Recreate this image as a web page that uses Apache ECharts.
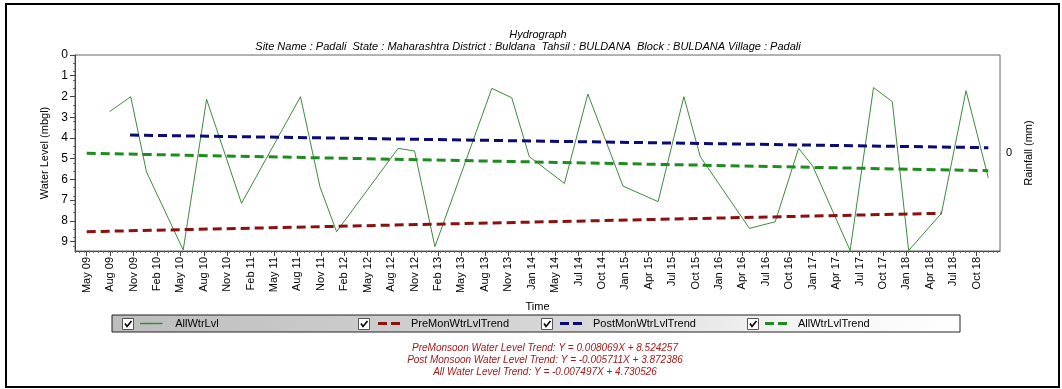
<!DOCTYPE html>
<html><head><meta charset="utf-8">
<script src="https://cdn.jsdelivr.net/npm/echarts@6/dist/echarts.min.js"></script>
<style>html,body{margin:0;padding:0;background:#fff}#c{width:1062px;height:389px}</style>
</head><body><div id="c"></div>
<script>
// tick labels (category positions, equally spaced)
const categories = ['May 09','Aug 09','Nov 09','Feb 10','May 10','Aug 10','Nov 10','Feb 11','May 11','Aug 11','Nov 11','Feb 12','May 12','Aug 12','Nov 12','Feb 13','May 13','Aug 13','Nov 13','Jan 14','May 14','Jul 14','Oct 14','Jan 15','Apr 15','Jul 15','Oct 15','Jan 16','Apr 16','Jul 16','Oct 16','Jan 17','Apr 17','Jul 17','Oct 17','Jan 18','Apr 18','Jul 18','Oct 18'];
const yTicks = [0,1,2,3,4,5,6,7,8,9];
// observed water level [position on time axis (category index), depth mbgl]
const allWtrLvl = [[0.98,2.73],[1.88,2.01],[2.55,5.63],[4.12,9.4],[5.12,2.14],[6.61,7.15],[9.13,2.01],[9.96,6.35],[10.67,8.52],[13.3,4.5],[14.0,4.63],[14.87,9.24],[17.3,1.61],[18.15,2.06],[18.9,4.9],[20.4,6.19],[21.4,1.88],[22.1,3.94],[22.9,6.32],[24.4,7.07],[25.5,2.01],[26.2,4.9],[28.3,8.36],[29.4,8.04],[30.4,4.5],[31.0,5.35],[32.6,9.43],[33.6,1.57],[34.4,2.25],[35.1,9.43],[36.5,7.63],[37.55,1.72],[38.5,5.92]];
const preMonTrend = [[0,8.52],[36.5,7.63]];
const postMonTrend = [[1.85,3.86],[38.5,4.47]];
const allTrend = [[0,4.74],[38.5,5.58]];
const equations = ['PreMonsoon Water Level Trend: Y = 0.008069X + 8.524257','Post Monsoon Water Level Trend: Y = -0.005711X + 3.872386','All Water Level Trend: Y = -0.007497X + 4.730526'];

const FONT = 'Liberation Sans';
const idx = categories.map((c,i)=>i);
const minor = [];
for (let i=-0.5;i<categories.length+0.5;i+=0.2){ minor.push(+i.toFixed(2)); }
const chart = echarts.init(document.getElementById('c'));
const dashIcon = 'path://M0,0h9v3h-9zM13,0h9v3h-9z';
function lg(name,left,icon,w,h){
  return {data:[name],left:left,top:318,orient:'horizontal',icon:icon,itemWidth:w,itemHeight:h,itemGap:0,padding:0,
    textStyle:{fontFamily:FONT,fontSize:11,color:'#000',padding:[0,0,0,4]},selectedMode:false};
}
function cb(x){
  return {type:'group',left:x,top:318,children:[
    {type:'rect',shape:{x:0,y:0,width:11,height:11},style:{fill:'#fff',stroke:'#555',lineWidth:1}},
    {type:'polyline',shape:{points:[[2.5,5],[4.5,8],[9,2.5]]},style:{stroke:'#000',lineWidth:1.6,fill:null}}
  ]};
}
chart.setOption({
  animation:false,
  title:[
    {text:'Hydrograph',left:533,textAlign:'center',top:24,textStyle:{fontFamily:FONT,fontSize:11,fontStyle:'italic',fontWeight:'normal',color:'#000'}},
    {text:'Site Name : Padali  State : Maharashtra District : Buldana  Tahsil : BULDANA  Block : BULDANA Village : Padali',left:523,textAlign:'center',top:36,textStyle:{fontFamily:FONT,fontSize:11,fontStyle:'italic',fontWeight:'normal',color:'#000'}},
    {text:equations.join('\n'),left:540,textAlign:'center',top:337,textStyle:{fontFamily:FONT,fontSize:10,fontStyle:'italic',fontWeight:'normal',color:'#a81818',lineHeight:12}}
  ],
  grid:{left:75,right:62,top:55,bottom:138,show:true,borderColor:'#666',borderWidth:1,backgroundColor:'#fff'},
  xAxis:[
    {type:'value',min:-0.5,max:39,name:'Time',nameLocation:'middle',nameGap:41,nameTextStyle:{fontFamily:FONT,fontSize:11,color:'#000'},
     axisLine:{show:true,onZero:false,lineStyle:{color:'#444'}},splitLine:{show:false},
     axisTick:{show:true,customValues:idx,length:5,lineStyle:{color:'#444'}},
     axisLabel:{customValues:idx,rotate:90,fontFamily:FONT,fontSize:11,color:'#000',margin:6,formatter:v=>categories[Math.round(v)]}},
    {type:'value',min:-0.5,max:39,position:'bottom',axisLine:{show:false,onZero:false},splitLine:{show:false},axisLabel:{show:false},
     axisTick:{show:true,customValues:minor,length:2,lineStyle:{color:'#666'}}}
  ],
  yAxis:[
    {type:'value',inverse:true,min:0,max:9.45,name:'Water Level (mbgl)',nameLocation:'middle',nameGap:21,nameRotate:90,
     nameTextStyle:{fontFamily:FONT,fontSize:11,color:'#000'},
     axisLine:{show:true,onZero:false,lineStyle:{color:'#444'}},splitLine:{show:false},
     axisTick:{show:true,customValues:yTicks,length:5,lineStyle:{color:'#444'}},
     minorTick:{show:true,splitNumber:5,length:2,lineStyle:{color:'#666'}},
     axisLabel:{customValues:yTicks,fontFamily:FONT,fontSize:12,color:'#000',margin:7}},
    {type:'value',position:'right',min:-1,max:1,name:'Rainfall (mm)',nameLocation:'middle',nameGap:20,nameRotate:90,
     nameTextStyle:{fontFamily:FONT,fontSize:11,color:'#000'},
     axisLine:{show:false,onZero:false},splitLine:{show:false},axisTick:{show:false},
     axisLabel:{customValues:[0],fontFamily:FONT,fontSize:11,color:'#000',margin:6}}
  ],
  legend:[
    lg('AllWtrLvl',140,'path://M0,0h30v2h-30z',30,1.5),
    lg('PreMonWtrLvlTrend',378,dashIcon,26,3),
    lg('PostMonWtrLvlTrend',560,dashIcon,26,3),
    lg('AllWtrLvlTrend',765,dashIcon,26,3)
  ],
  graphic:[
    {type:'rect',z:-10,shape:{x:112,y:315,width:848,height:17},style:{stroke:'#222',lineWidth:1,
      fill:new echarts.graphic.LinearGradient(0,0,1,0,[{offset:0,color:'#bdbdbd'},{offset:0.55,color:'#d8d8d8'},{offset:0.8,color:'#f4f4f4'},{offset:1,color:'#ffffff'}])}},
    cb(122),cb(358),cb(541),cb(747),
    {type:'rect',z:-20,shape:{x:6,y:4,width:1053,height:383},style:{fill:null,stroke:'#000',lineWidth:2}}
  ],
  series:[
    {name:'AllWtrLvl',type:'line',data:allWtrLvl,showSymbol:false,symbol:'none',lineStyle:{color:'#3e8a3e',width:1},itemStyle:{color:'#3e8a3e'}},
    {name:'PreMonWtrLvlTrend',type:'line',data:preMonTrend,showSymbol:false,symbol:'none',lineStyle:{color:'#8b1010',width:3,type:[9,5]},itemStyle:{color:'#8b1010'}},
    {name:'PostMonWtrLvlTrend',type:'line',data:postMonTrend,showSymbol:false,symbol:'none',lineStyle:{color:'#0a0a78',width:3,type:[9,5]},itemStyle:{color:'#0a0a78'}},
    {name:'AllWtrLvlTrend',type:'line',data:allTrend,showSymbol:false,symbol:'none',lineStyle:{color:'#1e8c1e',width:3,type:[9,5]},itemStyle:{color:'#1e8c1e'}}
  ]
});
</script></body></html>
